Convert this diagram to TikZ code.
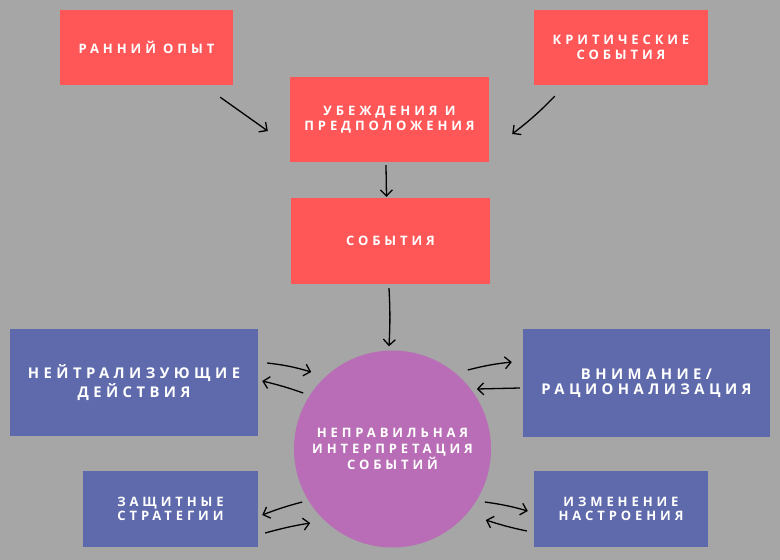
\documentclass[tikz,border=0pt]{standalone}
\usepackage{fontspec}
\newfontfamily\boxfont{Open Sans}[LetterSpace=30]
\usepackage{tikz}
\usetikzlibrary{arrows.meta}
\definecolor{bggray}{HTML}{A6A6A6}
\definecolor{boxred}{HTML}{FF5757}
\definecolor{boxblue}{HTML}{5E6AAB}
\definecolor{circlepurple}{HTML}{B96DB6}
\tikzset{
	flow box/.style={
		rectangle,
		inner sep=0pt,
		text=white,
		align=center,
		font=\boxfont\bfseries\fontsize{13}{14.5}\selectfont
	},
	red box/.style={
		flow box,
		fill=boxred
	},
	blue box/.style={
		flow box,
		fill=boxblue
	},
	blue big box/.style={
		blue box,
		font=\boxfont\bfseries\fontsize{14.8}{15.5}\selectfont
	},
	interpretation circle/.style={
		circle,
		fill=circlepurple,
		inner sep=0pt,
		minimum size=197pt,
		text=white,
		align=center,
		font=\boxfont\bfseries\fontsize{13}{16}\selectfont
	},
	hand arrow/.style={
		line width=1.3pt,
		-{Straight Barb[length=6pt,width=12pt,line width=1.3pt]}
	}
}

\begin{document}
\begin{tikzpicture}[x=1pt,y=-1pt]
	\fill[bggray] (0,0) rectangle (780,560);
	\useasboundingbox (0,0) rectangle (780,560);
	% top row
	\node[red box,minimum width=173pt,minimum height=75pt] (early) at (146.5,47.5) {РАННИЙ ОПЫТ};
	\node[red box,minimum width=174pt,minimum height=75pt] (critical) at (621,47.5) {КРИТИЧЕСКИЕ\\СОБЫТИЯ};
	\node[red box,minimum width=199pt,minimum height=85pt] (beliefs) at (389.5,119.5) {УБЕЖДЕНИЯ И\\ПРЕДПОЛОЖЕНИЯ};
	\node[red box,minimum width=199pt,minimum height=86pt] (events) at (390.5,241) {СОБЫТИЯ};
	% centre and sides
	\node[interpretation circle] (misread) at (392.5,449) {НЕПРАВИЛЬНАЯ\\ИНТЕРПРЕТАЦИЯ\\СОБЫТИЙ};
	\node[blue big box,minimum width=248pt,minimum height=107pt] (neutral) at (134,382.5) {НЕЙТРАЛИЗУЮЩИЕ\\ДЕЙСТВИЯ};
	\node[blue big box,minimum width=247pt,minimum height=108pt] (attention) at (646.5,383) {ВНИМАНИЕ/\\РАЦИОНАЛИЗАЦИЯ};
	\node[blue box,minimum width=175pt,minimum height=76pt] (defense) at (170.5,509) {ЗАЩИТНЫЕ\\СТРАТЕГИИ};
	\node[blue box,minimum width=174pt,minimum height=76pt] (mood) at (621,509) {ИЗМЕНЕНИЕ\\НАСТРОЕНИЯ};
	% arrows
	\draw[hand arrow] ([shift={(-13,12)}]early.south east) -- ([shift={(-22,11.5)}]beliefs.west);
	\draw[hand arrow] ([shift={(21,11)}]critical.south west) to[bend left=4] ([shift={(23,14.5)}]beliefs.east);
	\draw[hand arrow] ([shift={(-3.5,3)}]beliefs.south) -- ([shift={(-4,-1)}]events.north);
	\draw[hand arrow] ([shift={(-1.5,4)}]events.south) to[bend left=3] ([shift={(-3.5,-4)}]misread.north);
	\draw[hand arrow] ([shift={(9,-19.5)}]neutral.east) to[bend left=5] ([shift={(53,-10.5)}]neutral.east);
	\draw[hand arrow] ([shift={(45,10.5)}]neutral.east) to[bend right=3] ([shift={(4,-1.5)}]neutral.east);
	\draw[hand arrow] ([shift={(-55,-13)}]attention.west) to[bend left=4] ([shift={(-11,-21)}]attention.west);
	\draw[hand arrow] ([shift={(-3,5)}]attention.west) -- ([shift={(-46,6)}]attention.west);
	\draw[hand arrow] ([shift={(44,-7)}]defense.east) to[bend right=3] ([shift={(4,6)}]defense.east);
	\draw[hand arrow] ([shift={(7,24)}]defense.east) to[bend left=3] ([shift={(52,14)}]defense.east);
	\draw[hand arrow] ([shift={(-49,-7)}]mood.west) to[bend left=4] ([shift={(-6,2)}]mood.west);
	\draw[hand arrow] ([shift={(-7,22)}]mood.west) to[bend left=3] ([shift={(-48,11)}]mood.west);
\end{tikzpicture}
\end{document}
